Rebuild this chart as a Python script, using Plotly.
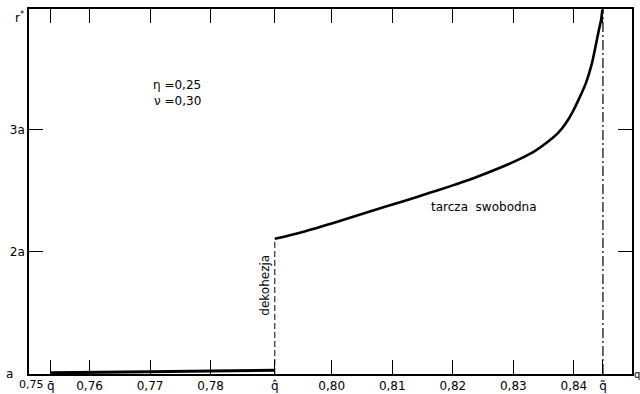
import plotly.graph_objects as go

# Data; r in units of a
q_bar = 0.7536
q_hat = 0.7906
q_tilde = 0.8448

q_coh = [0.7536, 0.760, 0.770, 0.780, 0.7906]
r_coh = [1.01, 1.012, 1.018, 1.025, 1.03]

q_free = [0.7906, 0.7952, 0.8008, 0.8063, 0.8117, 0.8162, 0.8195, 0.8233,
          0.8278, 0.8311, 0.8336, 0.8357, 0.8374, 0.8387, 0.8398, 0.8409,
          0.8420, 0.8430, 0.8436, 0.8441, 0.8445, 0.8447]
r_free = [2.107, 2.164, 2.246, 2.332, 2.414, 2.484, 2.537, 2.602,
          2.689, 2.762, 2.828, 2.902, 2.975, 3.057, 3.148, 3.260,
          3.385, 3.549, 3.689, 3.811, 3.902, 3.984]

x_tickvals = [q_bar, 0.76, 0.77, 0.78, q_hat, 0.80, 0.81, 0.82, 0.83, 0.84, q_tilde]
x_ticktext = ["q̄", "0,76", "0,77", "0,78", "q̂", "0,80", "0,81", "0,82", "0,83", "0,84", "q̃"]
y_tickvals = [1, 2, 3]
y_ticktext = ["a\u00a0\u00a0\u00a0", "2a", "3a"]

font = "DejaVu Sans"

fig = go.Figure()
fig.add_trace(go.Scatter(x=q_coh, y=r_coh, mode="lines",
                         line=dict(color="black", width=3), showlegend=False))
fig.add_trace(go.Scatter(x=q_free, y=r_free, mode="lines",
                         line=dict(color="black", width=2.6, shape="spline", smoothing=0.8),
                         showlegend=False))
fig.add_trace(go.Scatter(x=[q_hat, q_hat], y=[1, r_free[0]], mode="lines",
                         line=dict(color="black", width=1, dash="6px,3px"), showlegend=False))
fig.add_trace(go.Scatter(x=[q_tilde, q_tilde], y=[1, 3.99], mode="lines",
                         line=dict(color="black", width=1.2, dash="10px,3px,2px,3px"),
                         showlegend=False))

fig.update_layout(
    width=640, height=394,
    margin=dict(l=29, r=8, t=9, b=20, autoexpand=False),
    paper_bgcolor="white", plot_bgcolor="white",
    font=dict(family=font, size=12, color="black"),
    xaxis=dict(range=[0.75, 0.8496], tickvals=x_tickvals, ticktext=x_ticktext,
               ticks="inside", ticklen=14, tickwidth=1, tickcolor="black",
               showline=True, linecolor="black", linewidth=1.5, mirror="ticks",
               showgrid=False, zeroline=False, tickfont=dict(size=12),
               automargin=False),
    yaxis=dict(range=[1.0, 3.99], tickvals=y_tickvals, ticktext=y_ticktext,
               ticks="inside", ticklen=14, tickwidth=1, tickcolor="black",
               showline=True, linecolor="black", linewidth=1.5, mirror="ticks",
               showgrid=False, zeroline=False, tickfont=dict(size=12),
               automargin=False),
)

ann = dict(showarrow=False, font=dict(family=font, size=12, color="black"))
fig.add_annotation(x=0, y=0, xref="paper", yref="paper", text="0,75", xanchor="right",
                   yanchor="top", xshift=17, yshift=-2,
                   showarrow=False, font=dict(family=font, size=11, color="black"))
fig.add_annotation(x=0, y=1, xref="paper", yref="paper", text="r<sup>*</sup>",
                   xanchor="right", yanchor="top", xshift=-3, yshift=2, **ann)
fig.add_annotation(x=1, y=0, xref="paper", yref="paper", text="q",
                   xanchor="left", yanchor="middle", xshift=0,
                   showarrow=False, font=dict(family=font, size=10, color="black"))
fig.add_annotation(x=0.7745, y=3.37, text="η =0,25", **ann)
fig.add_annotation(x=0.7745, y=3.238, text="ν =0,30", **ann)
fig.add_annotation(x=0.8251, y=2.369, text="tarcza  swobodna", **ann)
fig.add_annotation(x=q_hat, y=1.73, text="dekohezja", textangle=-90,
                   xanchor="right", xshift=-1, **ann)

fig.write_html("out.html")
